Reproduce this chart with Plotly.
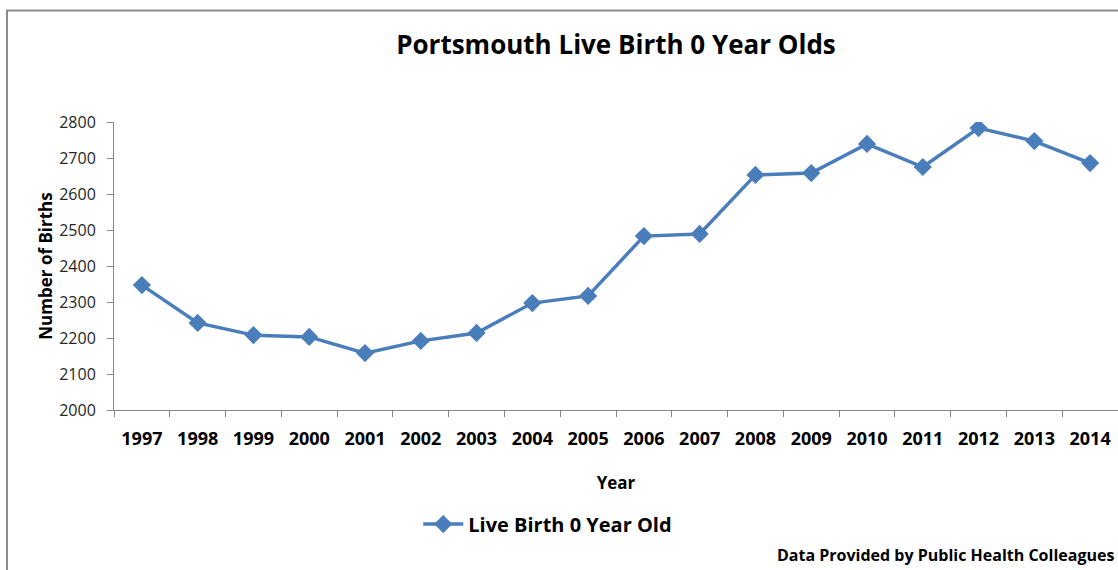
import plotly.graph_objects as go

years = ["1997", "1998", "1999", "2000", "2001", "2002", "2003", "2004", "2005",
         "2006", "2007", "2008", "2009", "2010", "2011", "2012", "2013", "2014"]
births = [2347, 2242, 2208, 2203, 2158, 2192, 2214, 2297, 2317,
          2483, 2489, 2653, 2658, 2739, 2675, 2783, 2747, 2686]
y_ticks = [2000, 2100, 2200, 2300, 2400, 2500, 2600, 2700, 2800]

FONT = "Open Sans"
BLUE = "#4a7ebb"
AXIS = "#868686"

W, H = 1118, 570
L, T = 114, 122
PW, PH = 1004, 288

fig = go.Figure()
fig.add_trace(go.Scatter(
    x=years, y=births, mode="lines+markers", name="Live Birth 0 Year Old",
    line=dict(color=BLUE, width=3.5),
    marker=dict(symbol="diamond", size=14, color=BLUE),
))

fig.update_layout(
    width=W, height=H,
    margin=dict(l=L, r=W - L - PW, t=T, b=H - T - PH, autoexpand=False),
    paper_bgcolor="white", plot_bgcolor="white",
    font=dict(family=FONT, color="#000000"),
    title=dict(text="Portsmouth Live Birth 0 Year Olds",
               x=0.5, xanchor="center", xref="paper",
               y=1 - 45 / H, yref="container", yanchor="middle",
               font=dict(size=26, family=FONT, color="#000000", weight="bold")),
    showlegend=True,
    legend=dict(orientation="h", x=0.432, xanchor="center",
                y=-0.396, yanchor="middle",
                font=dict(size=20, family=FONT, color="#000000", weight="bold"),
                itemwidth=40),
    xaxis=dict(
        type="category", range=[-0.5, len(years) - 0.5],
        showline=True, linecolor=AXIS, linewidth=1,
        ticks="outside", tickson="boundaries", ticklen=6, tickcolor=AXIS,
        tickangle=0,
        tickfont=dict(size=18, family=FONT, color="#000000", weight="bold"),
        ticklabelstandoff=12, automargin=False,
        showgrid=False, zeroline=False,
        title=dict(text="Year", font=dict(size=17, family=FONT, color="#000000", weight="bold"),
                   standoff=28),
    ),
    yaxis=dict(
        range=[2000, 2800], tickvals=y_ticks, showline=True, linecolor=AXIS,
        linewidth=1, ticks="outside", ticklen=6, tickcolor=AXIS,
        tickfont=dict(size=16, family=FONT, color="#262626"),
        ticklabelstandoff=8, automargin=False,
        showgrid=False, zeroline=False,
        title=dict(text="Number of Births",
                   font=dict(size=17, family=FONT, color="#000000", weight="bold"), standoff=2),
    ),
    shapes=[dict(type="rect", xref="paper", yref="paper",
                 x0=(7 - L) / PW, x1=1.2, y0=-1.0, y1=(410 - 10.5) / PH,
                 line=dict(color="#8c8c8c", width=2), fillcolor="rgba(0,0,0,0)",
                 layer="below")],
    annotations=[dict(text="Data Provided by Public Health Colleagues",
                      xref="paper", yref="paper", x=(1116 - L) / PW,
                      y=(410 - 555) / PH, xanchor="right", yanchor="middle",
                      showarrow=False,
                      font=dict(size=16, family=FONT, color="#000000", weight="bold"))],
)

fig.write_html(
    "out.html",
    config={"displayModeBar": False},
    post_script="document.body.style.margin='0';document.body.style.overflow='hidden';",
)
